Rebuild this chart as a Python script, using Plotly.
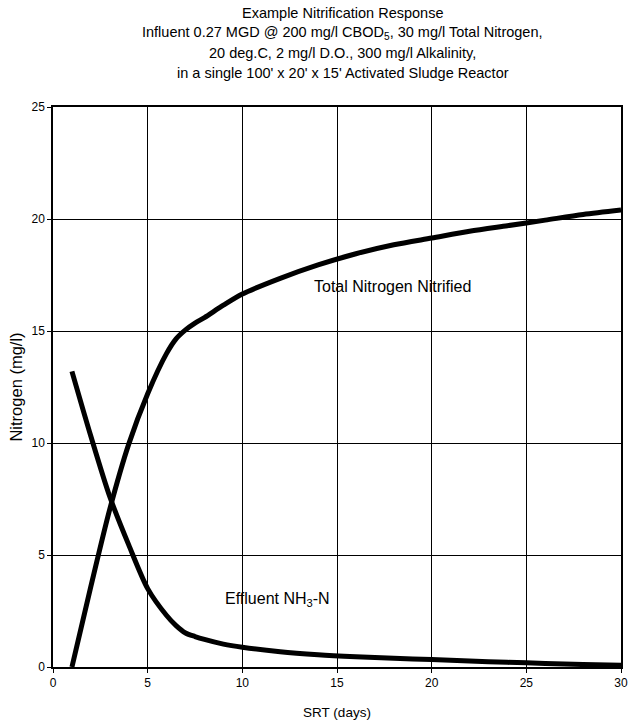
import plotly.graph_objects as go

srt_days = [1, 2, 3, 4, 5, 6, 6.5, 7, 7.5, 8, 9, 10, 12, 14, 16, 18, 20, 22, 24, 26, 28, 30]
total_nitrified = [0.0, 3.6, 7.05, 9.95, 12.2, 14.0, 14.65, 15.05, 15.35, 15.6, 16.15, 16.65,
                   17.35, 17.95, 18.45, 18.85, 19.15, 19.45, 19.7, 19.95, 20.2, 20.4]
effluent_nh3 = [13.2, 10.3, 7.6, 5.45, 3.5, 2.3, 1.85, 1.52, 1.36, 1.23, 1.02, 0.88,
                0.68, 0.55, 0.46, 0.39, 0.33, 0.27, 0.21, 0.16, 0.11, 0.08]

x_ticks = [0, 5, 10, 15, 20, 25, 30]
y_ticks = [0, 5, 10, 15, 20, 25]

title_lines = [
    "Example Nitrification Response",
    "Influent 0.27 MGD @ 200 mg/l CBOD<sub>5</sub>, 30 mg/l Total Nitrogen,",
    "20 deg.C, 2 mg/l D.O., 300 mg/l Alkalinity,",
    "in a single 100' x 20' x 15' Activated Sludge Reactor",
]

FONT = "Liberation Sans, Arial, sans-serif"

fig = go.Figure()
fig.add_trace(go.Scatter(x=srt_days, y=total_nitrified, mode="lines",
                         line=dict(color="black", width=5, shape="spline", smoothing=0.8),
                         name="Total Nitrogen Nitrified"))
fig.add_trace(go.Scatter(x=srt_days, y=effluent_nh3, mode="lines",
                         line=dict(color="black", width=5, shape="spline", smoothing=0.8),
                         name="Effluent NH3-N"))

fig.add_annotation(x=17.95, y=17.0, text="Total Nitrogen Nitrified", showarrow=False,
                   font=dict(size=16, color="black", family=FONT), xanchor="center", yanchor="middle")
fig.add_annotation(x=11.85, y=3.0, text="Effluent NH<sub>3</sub>-N", showarrow=False,
                   font=dict(size=16, color="black", family=FONT), xanchor="center", yanchor="middle")

for i, line in enumerate(title_lines):
    fig.add_annotation(xref="paper", yref="paper", x=0.51, y=1.0, yshift=94 - i * 20,
                       text=line, showarrow=False, xanchor="center", yanchor="middle",
                       font=dict(size=14.5, color="black", family=FONT))

fig.update_layout(
    width=633, height=725,
    margin=dict(l=53, r=12, t=107, b=58, autoexpand=False),
    paper_bgcolor="white", plot_bgcolor="white",
    showlegend=False,
    font=dict(family=FONT, color="black", size=12),
)
fig.update_xaxes(range=[0, 30], tickvals=x_ticks, showgrid=True, gridcolor="black", gridwidth=1,
                 showline=True, linecolor="black", linewidth=1.5, mirror=True, automargin=False,
                 ticks="outside", ticklen=4, tickcolor="black", zeroline=False,
                 tickfont=dict(size=12), title=dict(text="SRT (days)", font=dict(size=13.5), standoff=18))
fig.update_yaxes(range=[0, 25], tickvals=y_ticks, showgrid=True, gridcolor="black", gridwidth=1,
                 showline=True, linecolor="black", linewidth=1.5, mirror=True, automargin=False,
                 ticks="outside", ticklen=4, tickcolor="black", zeroline=False,
                 tickfont=dict(size=12), title=dict(text="Nitrogen (mg/l)", font=dict(size=16.5), standoff=5))

fig.write_html("out.html")
